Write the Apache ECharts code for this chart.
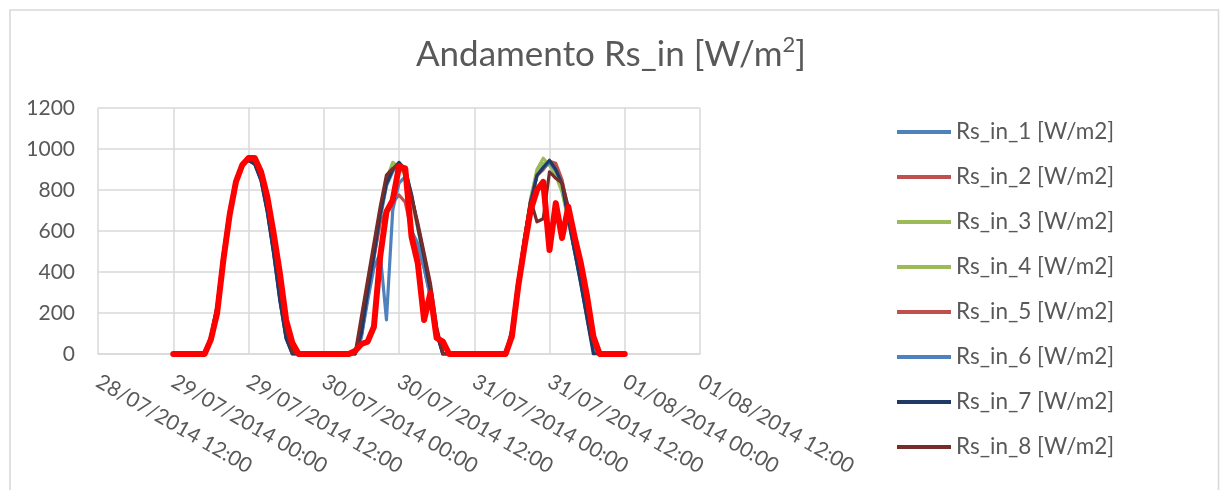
<!DOCTYPE html>
<html>
<head>
<meta charset="utf-8">
<script src="https://cdn.jsdelivr.net/npm/echarts@6/dist/echarts.min.js"></script>
<style>
  html, body { margin: 0; padding: 0; background: #ffffff; }
  #chart { width: 1222px; height: 490px; }
</style>
</head>
<body>
<div id="chart"></div>
<script>
// X axis: hours counted from 28/07/2014 12:00, one tick every 12 hours
const tickLabels = [
  '28/07/2014 12:00', '29/07/2014 00:00', '29/07/2014 12:00',
  '30/07/2014 00:00', '30/07/2014 12:00', '31/07/2014 00:00',
  '31/07/2014 12:00', '01/08/2014 00:00', '01/08/2014 12:00'
];
const firstHour = 12;   // first sample: 29/07/2014 00:00, hourly samples

// Hourly incoming short-wave radiation [W/m2], 29/07 00:00 .. 01/08 00:00
const rsIn1 = [
  0,0,0,0,0,0,85,232,490,700,850,925,945,930,850,700,500,270,80,0,0,0,0,0,
  0,0,0,0,0,0,90,280,470,660,820,890,930,900,770,620,470,310,110,0,0,0,0,0,
  0,0,0,0,0,0,100,330,560,750,880,920,940,890,820,650,500,350,180,20,0,0,0,0,
  0
];
const rsIn2 = [
  0,0,0,0,0,0,82,228,485,695,848,925,948,935,860,715,520,290,95,0,0,0,0,0,
  0,0,0,0,0,0,90,280,470,640,700,740,776,740,600,520,420,280,100,0,0,0,0,0,
  0,0,0,0,0,0,90,330,560,740,870,900,940,930,850,700,540,390,220,40,0,0,0,0,
  0
];
const rsIn3 = [
  0,0,0,0,0,0,86,236,495,705,855,930,950,935,855,705,505,275,85,0,0,0,0,0,
  0,0,0,0,0,0,120,320,520,700,850,935,910,880,760,620,470,320,120,0,0,0,0,0,
  0,0,0,0,0,0,100,340,560,760,900,955,920,880,800,660,520,380,200,30,0,0,0,0,
  0
];
const rsIn4 = [
  0,0,0,0,0,0,84,233,492,702,852,928,948,932,852,702,502,272,82,0,0,0,0,0,
  0,0,0,0,0,0,100,300,500,690,830,925,920,870,750,610,460,310,110,0,0,0,0,0,
  0,0,0,0,0,0,95,330,550,750,890,930,925,870,790,650,510,370,190,25,0,0,0,0,
  0
];
const rsIn5 = [
  0,0,0,0,0,0,80,224,480,692,846,924,950,938,866,730,535,315,105,0,0,0,0,0,
  0,0,0,0,0,0,150,340,520,700,860,900,920,880,760,630,480,330,120,0,0,0,0,0,
  0,0,0,0,0,0,95,335,565,745,875,905,935,920,840,690,530,380,210,35,0,0,0,0,
  0
];
const rsIn6 = [
  0,0,0,0,0,0,84,230,488,698,848,924,944,928,848,698,498,268,78,0,0,0,0,0,
  0,0,0,0,0,0,80,260,420,492,166,702,834,865,600,540,420,280,117,0,0,0,0,0,
  0,0,0,0,0,0,95,325,550,745,870,910,935,895,830,660,505,345,175,15,0,0,0,0,
  0
];
const rsIn7 = [
  0,0,0,0,0,0,85,232,490,700,850,925,945,925,845,690,490,260,75,0,0,0,0,0,
  0,0,0,0,0,0,100,300,480,680,830,900,935,900,780,620,470,310,100,0,0,0,0,0,
  0,0,0,0,0,0,90,320,550,740,870,910,945,900,830,660,500,340,170,0,0,0,0,0,
  0
];
const rsIn8 = [
  0,0,0,0,0,0,80,218,470,690,845,925,950,940,870,740,550,340,120,10,0,0,0,0,
  0,0,0,0,0,0,182,361,540,718,873,905,925,889,767,639,493,346,133,0,0,0,0,0,
  0,0,0,0,0,0,120,360,560,751,645,660,889,857,834,718,560,420,250,60,0,0,0,0,
  0
];
const rsIn9 = [
  0,0,0,0,0,0,70,200,460,680,840,922,956,956,889,767,590,395,166,54,0,0,0,0,
  0,0,0,0,0,15,49,60,133,475,694,751,914,905,572,443,166,297,78,60,0,0,0,0,
  0,0,0,0,0,0,85,328,523,702,800,840,507,736,566,718,572,443,280,85,0,0,0,0,
  0
];

const seriesNames = [
  'Rs_in_1 [W/m2]', 'Rs_in_2 [W/m2]', 'Rs_in_3 [W/m2]', 'Rs_in_4 [W/m2]',
  'Rs_in_5 [W/m2]', 'Rs_in_6 [W/m2]', 'Rs_in_7 [W/m2]', 'Rs_in_8 [W/m2]',
  'Rs_in_9 [W/m2]'
];
const seriesValues = [rsIn1, rsIn2, rsIn3, rsIn4, rsIn5, rsIn6, rsIn7, rsIn8, rsIn9];

// Line styling (colour, width) per series
const lineColors = ['#4F81BD', '#C0504D', '#9BBB59', '#9BBB59', '#C0504D',
                    '#4F81BD', '#1F3A66', '#772C2A', '#FF0000'];
const lineWidths = [3.2, 3.2, 3.2, 3.2, 3.2, 3.2, 3.2, 3.2, 6];

const FONT = 'Lato, "Noto Sans", sans-serif';
const TEXT = '#595959';
const GRID = '#d9d9d9';

const series = seriesValues.map((vals, s) => ({
  name: seriesNames[s],
  type: 'line',
  data: vals.map((v, i) => [firstHour + i, v]),
  symbol: 'none',
  smooth: false,
  z: 2 + s,
  itemStyle: { color: lineColors[s] },
  lineStyle: { color: lineColors[s], width: lineWidths[s], cap: 'round', join: 'round' },
  emphasis: { disabled: true },
  silent: true
}));

const chart = echarts.init(document.getElementById('chart'), null, { renderer: 'canvas' });
chart.setOption({
  animation: false,
  backgroundColor: '#ffffff',
  textStyle: { fontFamily: FONT },
  title: {
    text: '{t|Andamento Rs_in [W/m}{s|2}{t|]}',
    left: 'center',
    top: 29,
    textStyle: {
      fontWeight: 'normal',
      rich: {
        t: { fontFamily: FONT, fontSize: 35, fontWeight: 'normal', color: TEXT, lineHeight: 42 },
        s: { fontFamily: FONT, fontSize: 22, fontWeight: 'normal', color: TEXT, verticalAlign: 'top', lineHeight: 42, padding: [0, 0, 14, 0] }
      }
    }
  },
  legend: {
    orient: 'vertical',
    left: 892,
    top: 115,
    data: seriesNames.slice(0, 8),
    icon: 'rect',
    itemWidth: 54,
    itemHeight: 4,
    itemGap: 21,
    textStyle: { fontFamily: FONT, fontSize: 22.5, color: TEXT, lineHeight: 24 },
    selectedMode: false
  },
  grid: { left: 98, right: 522, top: 108, bottom: 136 },
  xAxis: {
    type: 'value',
    min: 0,
    max: 96,
    interval: 12,
    axisLine: { show: true, lineStyle: { color: GRID, width: 1.5 } },
    axisTick: { show: false },
    splitLine: { show: true, lineStyle: { color: GRID, width: 1.5 } },
    axisLabel: {
      rotate: -30,
      margin: 26,
      fontFamily: FONT,
      fontSize: 21,
      color: TEXT,
      showMinLabel: true,
      showMaxLabel: true,
      formatter: v => tickLabels[Math.round(v / 12)]
    }
  },
  yAxis: {
    type: 'value',
    min: 0,
    max: 1200,
    interval: 200,
    axisLine: { show: false },
    axisTick: { show: false },
    splitLine: { show: true, lineStyle: { color: GRID, width: 1.5 } },
    axisLabel: { margin: 23, fontFamily: FONT, fontSize: 21, color: TEXT, formatter: v => String(v) }
  },
  graphic: [{
    type: 'rect',
    silent: true,
    shape: { x: 10, y: 10, width: 1208.5, height: 520 },
    style: { fill: 'none', stroke: GRID, lineWidth: 1.6 }
  }],
  series: series
});
</script>
</body>
</html>
